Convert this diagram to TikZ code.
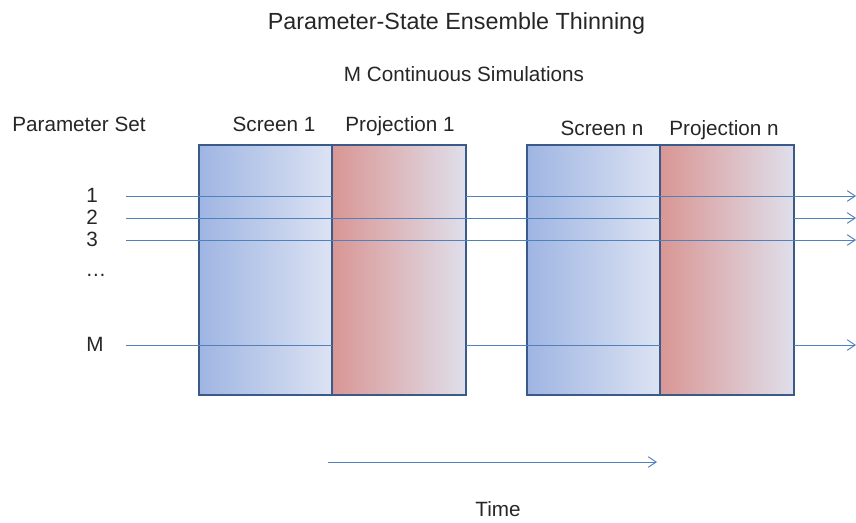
\documentclass[tikz,border=0pt]{standalone}
\usepackage{fontspec}
\setmainfont{Liberation Sans}
\usetikzlibrary{arrows.meta}
\definecolor{boxborder}{HTML}{3A5A8A}
\definecolor{simline}{HTML}{4F81BD}
\definecolor{scrL}{HTML}{9FB5E2}
\definecolor{scrR}{HTML}{DCE3F3}
\definecolor{prjL}{HTML}{D99694}
\definecolor{prjM}{HTML}{E6B8B7}
\definecolor{prjR}{HTML}{DFDFEB}
\tikzset{
  lbl/.style={font=\fontsize{15.5pt}{18pt}\selectfont, anchor=base, inner sep=0pt, text=black!85},
  titlelbl/.style={font=\fontsize{17.5pt}{20pt}\selectfont, anchor=base, inner sep=0pt, text=black!85},
  screenbox/.style={rectangle, inner sep=0pt, outer sep=0pt, minimum width=99.75pt, minimum height=187.5pt, left color=scrL, right color=scrR, draw=boxborder, line width=2.2pt},
  projbox/.style={rectangle, inner sep=0pt, outer sep=0pt, minimum width=100.5pt, minimum height=187.5pt, left color=prjL, middle color=prjM, right color=prjR, draw=boxborder, line width=2.2pt},
  sim/.style={draw=simline, line width=0.7pt},
  simarrow/.style={sim, -{Straight Barb[length=6pt,width=8pt,line width=0.7pt]}},
}
\begin{document}
\begin{tikzpicture}[x=0.75pt,y=-0.75pt]
\useasboundingbox (0,0) rectangle (856,522);
% boxes
\node[screenbox] (s1) at (265.5,270) {};
\node[projbox]   (p1) at (399,270) {};
\node[screenbox] (sn) at (593.5,270) {};
\node[projbox]   (pn) at (727,270) {};
% texts
\node[titlelbl] (title) at (456.5,29) {Parameter-State Ensemble Thinning};
\node[lbl] (msim) at (464,81) {M Continuous Simulations};
\node[lbl] (pset) at (79,131) {Parameter Set};
\node[lbl] (ts1) at (274,131) {Screen 1};
\node[lbl] (tp1) at (400,131) {Projection 1};
\node[lbl] (tsn) at (602,135) {Screen n};
\node[lbl] (tpn) at (724,135) {Projection n};
\node[lbl] (n1) at (92,202) {1};
\node[lbl] (n2) at (92,224) {2};
\node[lbl] (n3) at (92,246) {3};
\node[lbl] (ndots) at (96,276) {\dots};
\node[lbl] (nM) at (95,351) {M};
\node[lbl] (time) at (498,516) {Time};
% line coordinates
\coordinate (a1) at (126,196);
\coordinate (a2) at (126,218);
\coordinate (a3) at (126,240);
\coordinate (aM) at (126,345);
\coordinate (ex) at (856,0);
% line 1: hidden under projection 1
\draw[sim] (a1) -- (a1 -| p1.west);
\draw[simarrow] (a1 -| p1.east) -- (a1 -| ex);
% line 2: hidden under projection n
\draw[sim] (a2) -- (a2 -| pn.west);
\draw[simarrow] (a2 -| pn.east) -- (a2 -| ex);
% line 3: through all
\draw[simarrow] (a3) -- (a3 -| ex);
% line M: hidden under both projections
\draw[sim] (aM) -- (aM -| p1.west);
\draw[sim] (aM -| p1.east) -- (aM -| pn.west);
\draw[simarrow] (aM -| pn.east) -- (aM -| ex);
% time arrow
\coordinate (t0) at (328,462);
\coordinate (t1) at (657,462);
\draw[simarrow] (t0) -- (t1);
\end{tikzpicture}
\end{document}
